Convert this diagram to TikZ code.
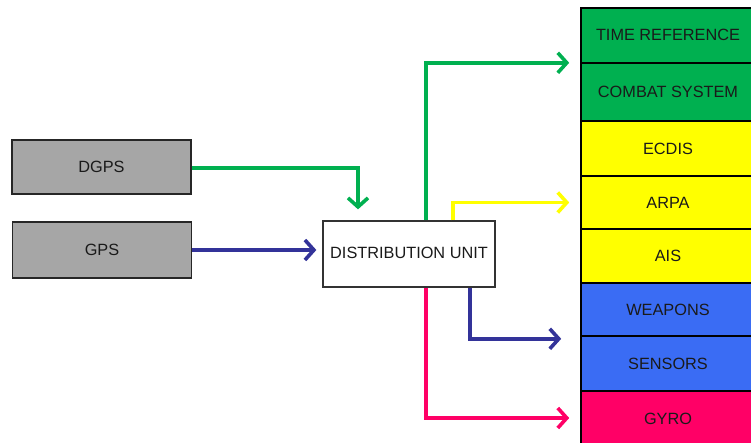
\documentclass[tikz,border=0pt]{standalone}
\usepackage{fontspec}
\setmainfont{Liberation Sans}
\usetikzlibrary{arrows.meta,calc}
\definecolor{navgreen}{HTML}{00B050}
\definecolor{navyellow}{HTML}{FFFF00}
\definecolor{navblue}{HTML}{3A6CF4}
\definecolor{navpink}{HTML}{FF0066}
\definecolor{navdark}{HTML}{333399}
\definecolor{srcgray}{HTML}{A6A6A6}
\definecolor{txt}{HTML}{1A1A1A}
\tikzset{
  lbl/.style={font=\fontsize{16.3}{19}\selectfont, text=txt},
  srcbox/.style={lbl, draw=black!85, line width=1.3pt, fill=srcgray, inner sep=0pt,
                 minimum width=179pt},
  unitbox/.style={lbl, draw=black!80, line width=1.3pt, fill=white, inner sep=0pt,
                  minimum width=172pt, minimum height=66pt},
  rowbox/.style={lbl, draw=black, line width=1.6pt, inner sep=0pt, minimum width=174pt},
  link/.style={line width=3.6pt, -{Straight Barb[length=9pt,width=20pt]}},
}
\begin{document}
\begin{tikzpicture}[x=1pt,y=-1pt]
\useasboundingbox (0,0) rectangle (751,443);
\clip (0,0) rectangle (751,443);

% sources
\node[srcbox, minimum height=54pt] (dgps) at (101.5,167) {DGPS};
\node[srcbox, minimum height=56pt] (gps)  at (102,250) {GPS};

% distribution unit
\node[unitbox] (du) at (409,254) {\raisebox{2pt}{DISTRIBUTION UNIT}};

% consumers column
\node[rowbox, fill=navgreen,  minimum height=55pt] (time)    at (668,35.5)  {\raisebox{2pt}{TIME REFERENCE}};
\node[rowbox, fill=navgreen,  minimum height=58pt] (combat)  at (668,92)    {COMBAT SYSTEM};
\node[rowbox, fill=navyellow, minimum height=55pt] (ecdis)   at (668,148.5) {ECDIS};
\node[rowbox, fill=navyellow, minimum height=53pt] (arpa)    at (668,202.5) {ARPA};
\node[rowbox, fill=navyellow, minimum height=54pt] (ais)     at (668,256)   {AIS};
\node[rowbox, fill=navblue,   minimum height=53pt] (weapons) at (668,309.5) {WEAPONS};
\node[rowbox, fill=navblue,   minimum height=55pt] (sensors) at (668,363.5) {SENSORS};
\node[rowbox, fill=navpink,   minimum height=56pt] (gyro)    at (668,419)   {GYRO};

% arrow end points
\coordinate (dgpsin) at ($(du.north)+(-51,-11)$);
\coordinate (gpsin)  at ($(du.west |- gps.east)+(-6,0)$);
\coordinate (toGreen)  at ($(time.south west)+(-11,-1)$);
\coordinate (toYellow) at ($(arpa.west)+(-11,0)$);
\coordinate (toBlue)   at ($(weapons.south west)+(-19,2)$);
\coordinate (toPink)   at ($(gyro.west)+(-11,-1)$);

% inputs
\draw[link, navgreen] ([yshift=-1pt]dgps.east) -| (dgpsin);
\draw[link, navdark]  (gps.east) -- (gpsin);

% outputs
\draw[link, navgreen]  ([xshift=17pt]du.north) |- (toGreen);
\draw[link, navyellow] ([xshift=44pt]du.north) |- (toYellow);
\draw[link, navdark]   ([xshift=61pt]du.south) |- (toBlue);
\draw[link, navpink]   ([xshift=17pt]du.south) |- (toPink);
\end{tikzpicture}
\end{document}
